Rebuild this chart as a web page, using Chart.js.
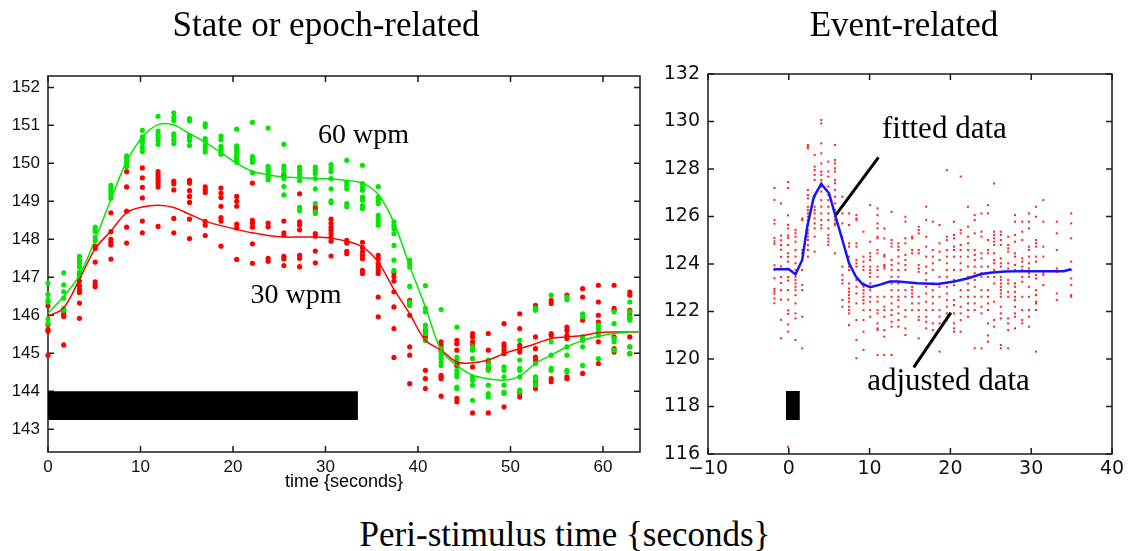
<!DOCTYPE html>
<html><head><meta charset="utf-8">
<script src="https://cdn.jsdelivr.net/npm/chart.js@4.4.1/dist/chart.umd.min.js"></script>
<style>
html,body{margin:0;padding:0;background:#fff;}
#wrap{position:relative;width:1131px;height:551px;overflow:hidden;background:#fff;}
#wrap canvas{position:absolute;}
.t{position:absolute;white-space:nowrap;line-height:1;color:#000;transform:translateX(-50%);}
.serif{font-family:'Liberation Serif','Times New Roman',serif;}
.sans{font-family:'Liberation Sans',Arial,sans-serif;}
</style></head><body>
<div id="wrap">
<canvas id="c1" width="660" height="500" style="left:0;top:0;"></canvas>
<canvas id="c2" width="481" height="500" style="left:650px;top:0;"></canvas>
<div class="t serif" style="left:326px;top:6.7px;font-size:35px;">State or epoch-related</div>
<div class="t serif" style="left:904px;top:6.7px;font-size:35px;">Event-related</div>
<div class="t sans" style="left:344px;top:472px;font-size:18px;">time {seconds}</div>
<div class="t serif" style="left:565px;top:516.7px;font-size:35px;">Peri-stimulus time {seconds}</div>
</div>
<script>
// ---------- LEFT: State or epoch-related ----------
const leftT = [0,1.7,3.4,5.1,6.8,8.5,10.2,11.9,13.6,15.3,17,18.7,20.4,22.1,23.8,25.5,27.2,28.9,30.6,32.3,34,35.7,37.4,39.1,40.8,42.5,44.2,45.9,47.6,49.3,51,52.7,54.4,56.1,57.8,59.5,61.2,62.9];
const fitT = [0,1.7,3.4,5.1,6.8,8.5,10.2,11.9,13.6,15.3,17,18.7,20.4,22.1,23.8,25.5,27.2,28.9,30.6,32.3,34,35.7,37.4,39.1,40.8,42.5,44.2,45.9,47.6,49.3,51,52.7,54.4,56.1,57.8,59.5,61.2,62.9,64];
const green60 = [
[146.85,146.55,146.4,146.35,145.9,145.78],
[147.12,146.8,146.62,146.45,146.18,146.13],
[147.55,147.45,147.36,147.27,147.14,147.02],
[148.32,148.25,148.2,148.05,147.97],
[149.42,149.33,149.25,149.15,149.08],
[150.2,150.12,150.05,149.97,149.92],
[150.87,150.7,150.62,150.54,150.42,150.31],
[151.24,150.85,150.76,150.68,150.6,150.5],
[151.33,151.22,151.13,150.78,150.72,150.62,150.52],
[151.18,151.12,150.74,150.68,150.6,150.47],
[151.04,150.97,150.65,150.58,150.47,150.39,150.3],
[150.72,150.62,150.45,150.39,150.3,150.24],
[150.9,150.46,150.4,150.33,150.25,150.18,150.1,150.03],
[151.08,150.18,150.1,150.03,149.75],
[150.93,149.92,149.86,149.8,149.72,149.64,149.57],
[150.5,149.93,149.85,149.74,149.6,149.39,149.17],
[149.9,149.82,149.73,149.64,149.55,148.84,148.76],
[149.9,149.82,149.73,149.6,149.33,148.94,148.72,148.68],
[149.97,149.88,149.78,149.6,149.33,149.01,148.96],
[150.08,149.5,149.42,149.33,148.94,148.86],
[149.95,149.47,149.38,149.29,149.11,149.03,148.89,148.81],
[149.39,149.11,149.03,148.94,148.63,148.54,148.46,148.37],
[148.46,148.37,148.28,148.15,147.84,147.45,147.18],
[147.45,147.36,147.27,146.76,146.35,146.26],
[146.78,146.18,146.09,145.74,145.65,145.52,145.34],
[146.15,145.12,145.03,144.95,144.86,144.77,144.68],
[145.69,144.9,144.82,144.55,144.46,144.38,144.11,144.07],
[145.17,145.08,144.86,144.38,144.29,144.16,143.76],
[144.82,144.68,144.55,144.16,143.94,143.85],
[144.64,144.55,144.38,144.16,143.98,143.94],
[145.34,144.82,144.6,144.55,144.38,144.03,143.98],
[146.18,146.13,144.73,144.38,144.29,144.16],
[146.53,145.3,144.95,144.6,144.55],
[146.48,146.41,145.17,144.95,144.55,144.51],
[146.04,145.96,145.43,145.34,145.17,144.68],
[145.74,145.65,145.56,145.47,144.86],
[146.09,145.78,145.39,145.3,145.08],
[146.35,146.09,145.96,145.87,145.17,144.99]
];
const red30 = [
[146.25,145.75,145.62,145.58,144.95],
[146.1,146.02,145.97,145.22],
[147.1,146.9,146.78,146.68,146.6,146.32,145.92],
[147.82,147.76,147.4,146.88,146.8,146.75],
[148.7,148.2,148.0,147.92,147.85,147.48],
[149.78,149.38,148.74,148.32,147.9],
[149.88,149.62,149.37,149.09,148.48,148.17],
[149.78,149.7,149.62,149.55,149.47,149.38,148.34],
[149.53,149.46,149.3,148.55,148.17],
[149.55,149.48,149.28,149.13,148.97,148.53,148.02],
[149.38,149.3,149.23,148.47,148.37,148.1],
[149.35,149.22,149.1,148.87,148.57,148.48,147.82],
[149.13,149.0,148.87,148.4,148.3,147.47],
[149.48,148.5,148.42,148.32,147.88,147.37],
[148.43,148.33,147.5,147.42],
[149.69,148.48,148.17,148.1,147.55,147.48,147.31],
[149.2,148.46,148.38,148.25,147.58,147.5,147.28],
[148.85,148.78,148.15,148.08,147.69,147.38],
[148.53,148.42,148.32,148.24,148.15,148.06,147.95,147.56],
[147.97,147.9,147.68,147.62],
[147.92,147.78,147.67,147.58,147.49,147.18,147.1],
[147.58,147.49,147.36,147.27,147.18,147.1,146.48,145.96],
[147.12,147.02,146.9,146.62,146.22,145.65,144.89],
[146.39,146.31,146.0,145.17,144.95,144.2],
[145.6,145.43,145.34,144.55,144.33,144.07],
[145.3,145.21,145.08,144.42,144.38,144.33,143.87],
[145.34,145.25,145.08,144.73,144.68,143.81,143.72],
[145.52,145.43,145.3,145.21,144.86,144.64,143.43],
[145.52,145.08,144.77,144.6,143.43],
[145.78,145.25,145.18,145.08,144.99,143.59],
[146.04,145.65,145.21,145.12,145.03,143.94,143.85],
[146.26,146.22,145.43,145.12,144.9,144.82,144.25,144.07],
[146.39,146.31,145.52,145.47,144.33,144.25],
[146.53,145.69,145.6,145.47,145.39,144.38,144.33],
[146.7,146.48,145.87,145.34,144.47],
[146.79,146.35,146.0,145.82,145.3,144.73],
[146.79,146.18,146.13,145.43,145.12,145.03],
[146.61,146.53,146.13,146.04,145.91,145.43,145.17,144.99]
];
const greenFit = [146.05,146.5,147.05,148.0,149.05,150.05,150.69,151.02,151.01,150.78,150.56,150.28,150.0,149.79,149.7,149.64,149.62,149.6,149.59,149.55,149.48,149.18,148.44,147.3,146.22,145.08,144.68,144.42,144.33,144.29,144.4,144.73,144.95,145.17,145.34,145.45,145.52,145.56,145.57];
const redFit = [145.97,146.2,146.95,147.75,148.22,148.7,148.85,148.9,148.84,148.66,148.48,148.36,148.26,148.17,148.1,148.06,148.06,148.06,148.03,147.95,147.8,147.4,146.68,146.04,145.34,145.08,144.77,144.75,144.82,144.99,145.12,145.25,145.39,145.43,145.47,145.54,145.56,145.56,145.57];
const leftBarX = [0, 33.5];
const leftBarTop = 144.0, leftBarBottom = 143.24;
const leftXTicks = [0,10,20,30,40,50,60];
const leftYTicks = [143,144,145,146,147,148,149,150,151,152];

// ---------- RIGHT: Event-related ----------
const rightT = [-1.78,-0.96,-0.09,0.83,1.66,2.36,3.2,4.02,4.89,5.72,6.63,7.46,8.37,9.24,10.07,10.98,11.82,12.72,13.56,14.43,15.26,16.08,17.0,17.82,18.66,19.56,20.44,21.27,22.18,23.01,23.84,24.65,25.41,26.24,27.15,27.99,28.89,29.73,30.6,31.5,33.17,34.95];
const rightY = [
[127.2,126.7,125.85,125.7,125.1,124.95,124.85,123.95,123.75,123.4,122.95,122.85,122.75,122.55,122.35],
[126.55,125.2,125.0,124.8,124.6,124.3,123.9,123.45,123.2,122.9,122.5,121.65,120.87],
[127.45,127.2,126.05,125.65,125.5,125.2,125.1,124.8,124.45,124.3,124.1,123.8,123.45,123.3,122.9,122.5,122.05,121.9,121.45,121.15,116.3],
[125.43,125.29,125.15,124.94,124.59,124.31,124.03,123.75,123.46,123.33,123.18,123.04,122.9,122.69,122.34,121.92,121.71,120.8],
[125.92,125.85,124.59,124.45,123.75,123.12,122.9,121.78,120.45],
[129.01,128.94,128.87,127.12,126.9,126.76,126.41,126.27,126.13,125.99,125.85,125.64,125.43,125.29,125.15,125.01,124.8,124.59,124.31],
[128.59,128.1,127.96,127.75,127.54,126.83,126.41,126.27,126.13,125.92,125.71,125.5,125.15,124.52],
[130.06,129.92,129.08,128.66,128.23,127.89,127.75,127.54,127.4,127.26,127.05,126.69,126.41,126.13,125.85,125.64,125.5],
[128.31,127.89,127.68,127.26,126.9,126.69,126.41,126.13,125.85,125.5,125.22,125.08,124.94,124.8],
[129.01,128.38,128.24,128.03,127.89,127.54,127.4,127.12,126.83,126.55,126.27,125.99,125.85,125.71,125.64,124.45],
[126.83,126.13,125.71,125.15,123.89,123.53,123.33,123.18,122.48,122.2],
[126.13,125.64,124.87,124.73,124.31,124.03,123.89,123.75,123.18,122.97,122.83,122.69,122.55,122.41,122.2,122.06,121.92,121.43],
[126.06,125.92,125.85,124.87,124.73,124.17,124.03,123.89,123.33,123.04,122.76,122.34,121.64,120.8,120.03],
[125.36,124.31,124.1,123.89,123.75,123.18,123.11,123.04,122.9,122.76,122.62,122.48,122.34,122.06,121.64,121.15,120.38],
[126.48,124.94,124.45,124.31,124.17,123.89,123.75,123.61,123.46,123.18,123.04,122.9,122.62,122.41,122.06,121.78],
[126.34,126.06,125.71,125.5,125.15,125.08,124.59,124.45,123.89,123.75,123.46,122.62,122.41,122.06,121.92,121.5,121.29,121.22,120.17],
[125.5,125.08,124.38,124.31,123.96,123.89,123.81,123.18,122.62,122.2,122.06,121.78,121.22,120.94,120.17],
[126.2,125.01,124.87,124.73,124.17,123.96,123.75,123.46,123.18,122.9,122.62,122.34,122.06,121.85,121.57,121.36,120.17],
[124.87,124.73,124.59,124.31,124.03,123.75,123.46,123.18,122.9,122.62,122.48,122.2,121.92,121.64,121.36],
[125.99,125.78,125.08,124.87,124.38,124.17,123.96,123.75,122.9,122.62,122.06,121.78,121.29,121.01],
[125.15,125.08,124.59,124.45,123.04,122.9,122.76,122.62,122.34,122.06],
[125.57,125.43,125.29,124.59,124.45,123.96,123.81,123.67,122.62,122.34,122.06,121.78,121.64,120.87],
[126.41,125.85,125.15,124.73,124.31,123.89,123.61,123.33,123.04,122.76,122.41,122.06,121.78,121.57,121.29],
[125.78,124.59,124.31,124.03,123.75,123.18,122.9,122.62,122.34,122.06,121.5,121.22],
[125.64,124.87,124.52,124.17,123.46,123.04,122.62,122.06,121.78,121.5,120.31],
[127.95,125.15,125.01,124.59,124.31,124.03,123.75,123.46,123.04,122.76,122.48,122.2,121.92,121.64],
[125.78,125.22,125.08,124.73,124.59,124.31,123.75,123.33,123.11,122.48,122.27,121.92,121.5,121.29,121.15],
[127.68,125.43,125.29,124.8,124.59,124.31,124.03,123.75,123.33,122.9,122.62,122.2,121.92,121.64,121.15],
[126.41,125.57,125.15,124.87,124.59,124.31,123.89,123.46,123.18,122.9,122.62,122.34,122.06,121.78],
[126.06,125.85,125.29,124.59,124.38,124.17,123.89,123.61,123.33,123.04,122.62,122.34,122.06,120.45],
[126.13,125.36,125.15,124.45,124.24,123.89,123.61,123.46,122.9,122.62,122.2,121.92,120.45],
[126.48,126.13,125.01,124.59,124.45,123.89,123.61,123.46,122.9,122.62,122.34,122.06,121.5,120.99,120.73],
[127.39,125.36,125.22,125.08,124.94,124.8,124.45,124.17,124.03,123.75,123.46,123.18,122.41,121.64,121.36],
[125.36,125.22,125.01,124.8,124.24,124.03,123.89,123.46,123.33,123.18,123.04,122.9,122.76,122.62,122.2,121.92,121.71,120.59,120.45],
[125.15,124.8,124.66,124.52,124.03,123.81,123.33,123.18,122.83,122.62,121.71,121.5,121.22,120.45],
[126.06,125.78,125.22,124.94,124.45,124.31,123.96,123.75,123.18,123.04,122.83,122.62,122.48,122.2,121.92,121.78,121.29],
[125.78,125.36,125.01,124.24,124.1,123.89,123.75,123.46,123.25,122.62,122.06,121.64,121.5],
[126.13,125.78,125.5,124.73,124.59,124.31,124.03,123.81,123.61,123.46,123.04,122.62,122.06,121.78,121.36],
[126.41,125.99,125.01,124.87,124.73,124.31,124.1,123.53,123.39,122.9,122.69,122.41,122.34,122.06,120.31],
[126.69,125.78,124.73,124.31,123.61,123.53,123.11],
[125.78,125.29,124.59,123.81,123.67,122.76,122.48],
[126.13,125.71,125.08,124.1,123.75,123.39,123.11,122.69,122.62]
];
const blueT = [-1.87,0,0.83,1.66,2.28,3.1,4.02,4.98,5.8,6.63,7.46,8.3,9.1,10.07,11.2,12.5,13.47,15.96,18.45,20.5,22.2,23.84,24.9,26.7,29.2,34.0,34.95];
const blueFit = [123.78,123.78,123.57,124.17,125.57,126.83,127.37,126.98,125.99,125.01,124.03,123.47,123.16,123.02,123.12,123.26,123.26,123.19,123.16,123.26,123.4,123.58,123.63,123.68,123.7,123.7,123.78];
const rightBarX = [-0.37, 1.37];
const rightBarTop = 118.65, rightBarBottom = 117.43;
const fittedPointerX = [5.8, 11.1], fittedPointerY = [126.06, 128.49];
const adjustedPointerX = [15.46, 20.06], adjustedPointerY = [119.65, 121.95];
const rightXTicks = [-10,0,10,20,30,40];
const rightXLabels = ['\u221210','0','10','20','30','40'];
const rightYTicks = [116,118,120,122,124,126,128,130,132];

// ---------- helpers ----------
const colPts = (ts, cols) => cols.flatMap((ys, k) => ys.map(v => ({x: ts[k], y: v})));
const zipPts = (xs, ys) => xs.map((x, i) => ({x, y: ys[i]}));

const matlabAxes = {
  id: 'matlabAxes',
  beforeDatasetsDraw(chart) {
    const {ctx, chartArea: a, scales: {x, y}} = chart;
    ctx.save();
    ctx.strokeStyle = '#1a1a1a';
    ctx.lineWidth = 1.5;
    ctx.strokeRect(a.left, a.top, a.right - a.left, a.bottom - a.top);
    const L = 6;
    ctx.beginPath();
    x.ticks.forEach(t => {
      const px = x.getPixelForValue(t.value);
      ctx.moveTo(px, a.bottom); ctx.lineTo(px, a.bottom - L);
      ctx.moveTo(px, a.top); ctx.lineTo(px, a.top + L);
    });
    y.ticks.forEach(t => {
      const py = y.getPixelForValue(t.value);
      ctx.moveTo(a.left, py); ctx.lineTo(a.left + L, py);
      ctx.moveTo(a.right, py); ctx.lineTo(a.right - L, py);
    });
    ctx.stroke();
    ctx.restore();
  }
};
const dataText = {
  id: 'dataText',
  afterDatasetsDraw(chart, args, opts) {
    const {ctx, scales: {x, y}} = chart;
    (opts.items || []).forEach(it => {
      ctx.save();
      ctx.font = it.font;
      ctx.fillStyle = '#000';
      ctx.textAlign = 'left';
      ctx.textBaseline = 'alphabetic';
      ctx.fillText(it.text, x.getPixelForValue(it.x), y.getPixelForValue(it.y));
      ctx.restore();
    });
  }
};

const GREEN = 'rgb(0,232,0)', RED = 'rgb(255,0,0)';

function axisCfg(min, max, ticks, labels, font, pad, fitSize, isX) {
  return {
    type: 'linear', min, max,
    afterBuildTicks: s => { s.ticks = ticks.map(v => ({value: v})); },
    afterFit: s => { if (isX) s.height = fitSize; else s.width = fitSize; },
    grid: {display: false, drawTicks: false},
    border: {display: false},
    ticks: {
      font, color: '#111', padding: pad, maxRotation: 0, autoSkip: false,
      callback: (v) => { const i = ticks.indexOf(v); return labels ? labels[i] : String(v); }
    }
  };
}

new Chart(document.getElementById('c1'), {
  type: 'scatter',
  data: {
    datasets: [
      {type: 'line', data: zipPts(fitT, greenFit), borderColor: GREEN, borderWidth: 1.5, pointRadius: 0, tension: 0.35, showLine: true, fill: false, order: 0},
      {type: 'line', data: zipPts(fitT, redFit), borderColor: RED, borderWidth: 1.5, pointRadius: 0, tension: 0.35, showLine: true, fill: false, order: 1},
      {data: colPts(leftT, green60), backgroundColor: GREEN, borderWidth: 0, pointRadius: 2.6, pointStyle: 'circle', clip: false, order: 2},
      {data: colPts(leftT, red30), backgroundColor: RED, borderWidth: 0, pointRadius: 2.6, pointStyle: 'circle', clip: false, order: 3},
      {type: 'line', data: zipPts(leftBarX, [leftBarTop, leftBarTop]), borderWidth: 0, borderColor: '#000', backgroundColor: '#000', pointRadius: 0, showLine: true, fill: {value: leftBarBottom}, order: 4}
    ]
  },
  options: {
    responsive: false, animation: false, events: [],
    layout: {padding: {top: 76, right: 20, left: 0, bottom: 0}},
    plugins: {legend: {display: false}, tooltip: {enabled: false},
      dataText: {items: [
        {text: '60 wpm', x: 29.2, y: 150.53, font: "28px 'Liberation Serif'"},
        {text: '30 wpm', x: 21.9, y: 146.31, font: "28px 'Liberation Serif'"}
      ]}},
    scales: {
      x: axisCfg(0, 64, leftXTicks, null, {family: "'Liberation Sans'", size: 17}, 5, 48, true),
      y: axisCfg(142.4, 152.3, leftYTicks, null, {family: "'Liberation Sans'", size: 17}, 8, 48, false)
    }
  },
  plugins: [matlabAxes, dataText]
});

new Chart(document.getElementById('c2'), {
  type: 'scatter',
  data: {
    datasets: [
      {type: 'line', data: zipPts(blueT, blueFit), borderColor: 'rgb(20,20,255)', borderWidth: 2.5, pointRadius: 0, tension: 0, showLine: true, fill: false, order: 0},
      {type: 'line', data: zipPts(fittedPointerX, fittedPointerY), borderColor: '#000', borderWidth: 3, pointRadius: 0, showLine: true, fill: false, order: 1},
      {type: 'line', data: zipPts(adjustedPointerX, adjustedPointerY), borderColor: '#000', borderWidth: 3, pointRadius: 0, showLine: true, fill: false, order: 1},
      {data: colPts(rightT, rightY), backgroundColor: 'rgb(255,40,40)', borderWidth: 0, pointRadius: 1.45, pointStyle: 'rect', clip: false, order: 2},
      {type: 'line', data: zipPts(rightBarX, [rightBarTop, rightBarTop]), borderWidth: 0, borderColor: '#000', backgroundColor: '#000', pointRadius: 0, showLine: true, fill: {value: rightBarBottom}, order: 3}
    ]
  },
  options: {
    responsive: false, animation: false, events: [],
    layout: {padding: {top: 74, right: 19, left: 0, bottom: 0}},
    plugins: {legend: {display: false}, tooltip: {enabled: false},
      dataText: {items: [
        {text: 'fitted data', x: 11.53, y: 129.3, font: "31px 'Liberation Serif'"},
        {text: 'adjusted data', x: 9.7, y: 118.69, font: "31px 'Liberation Serif'"}
      ]}},
    scales: {
      x: axisCfg(-10, 40, rightXTicks, rightXLabels, {family: "'DejaVu Sans'", size: 19}, 4, 46, true),
      y: axisCfg(116, 132, rightYTicks, null, {family: "'DejaVu Sans'", size: 19}, 8, 58, false)
    }
  },
  plugins: [matlabAxes, dataText]
});
</script>
</body></html>
